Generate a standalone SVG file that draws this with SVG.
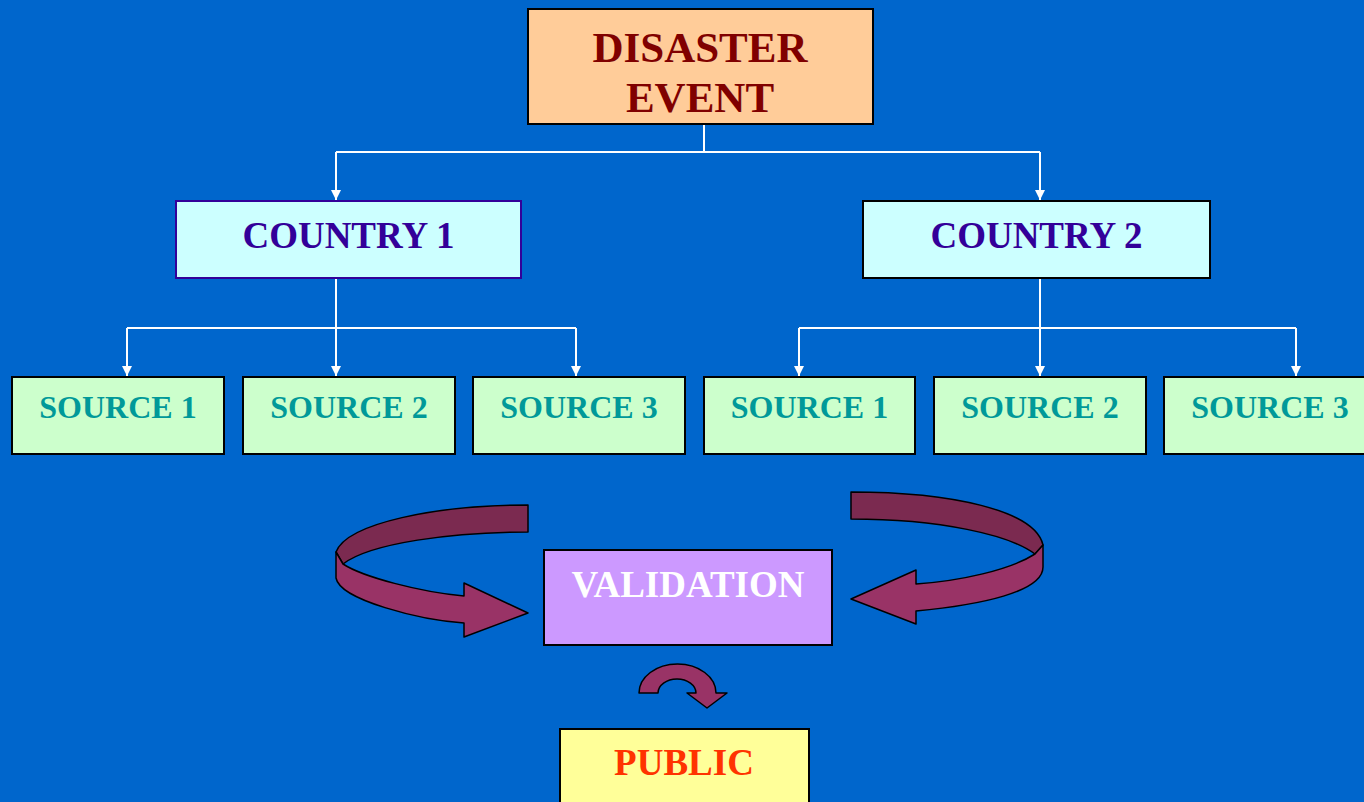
<svg xmlns="http://www.w3.org/2000/svg" width="1364" height="802" viewBox="0 0 1364 802">
<defs>
<marker id="ah" viewBox="0 0 10 10" refX="10" refY="5" markerWidth="10" markerHeight="10" markerUnits="userSpaceOnUse" orient="auto">
<path d="M0,0 L10,5 L0,10 Z" fill="#FFFFFF"/>
</marker>
<style>
.t{font-family:"Liberation Serif","Times New Roman",serif;font-weight:bold;text-anchor:middle}
.box{stroke:#000000;stroke-width:2}
.src rect{fill:#CCFFCC}
.src text{fill:#009999;font-size:32px}
.ctry rect{fill:#CCFFFF}
.ctry text{fill:#330099;font-size:37px}
.conn{fill:none;stroke:#FFFFFF;stroke-width:2}
.back{fill:#7B2A50;stroke:#000000;stroke-width:1.5;stroke-linejoin:round}
.front{fill:#993366;stroke:#000000;stroke-width:1.5;stroke-linejoin:round}
</style>
</defs>
<rect x="0" y="0" width="1364" height="802" fill="#0066CC"/>

<g id="connectors">
<path class="conn" d="M704,124 V152"/>
<path class="conn" d="M336,152 H1040"/>
<path class="conn" d="M336,152 V200" marker-end="url(#ah)"/>
<path class="conn" d="M1040,152 V200" marker-end="url(#ah)"/>
<path class="conn" d="M127,328 H576"/>
<path class="conn" d="M336,278 V376" marker-end="url(#ah)"/>
<path class="conn" d="M127,328 V376" marker-end="url(#ah)"/>
<path class="conn" d="M576,328 V376" marker-end="url(#ah)"/>
<path class="conn" d="M799,328 H1296"/>
<path class="conn" d="M1040,278 V376" marker-end="url(#ah)"/>
<path class="conn" d="M799,328 V376" marker-end="url(#ah)"/>
<path class="conn" d="M1296,328 V376" marker-end="url(#ah)"/>
</g>

<g id="disaster-event">
<rect class="box" x="528" y="9" width="345" height="115" fill="#FFCC99"/>
<text class="t" x="700" y="62" font-size="43" fill="#800000">DISASTER</text>
<text class="t" x="700" y="112" font-size="43" fill="#800000">EVENT</text>
</g>

<g id="country-1" class="ctry">
<rect x="176" y="201" width="345" height="77" stroke="#330099" stroke-width="2"/>
<text class="t" x="348.5" y="248">COUNTRY 1</text>
</g>
<g id="country-2" class="ctry">
<rect class="box" x="863" y="201" width="347" height="77"/>
<text class="t" x="1036.5" y="248">COUNTRY 2</text>
</g>

<g id="c1-source-1" class="src"><rect class="box" x="12" y="377" width="212" height="77"/><text class="t" x="118" y="418">SOURCE 1</text></g>
<g id="c1-source-2" class="src"><rect class="box" x="243" y="377" width="212" height="77"/><text class="t" x="349" y="418">SOURCE 2</text></g>
<g id="c1-source-3" class="src"><rect class="box" x="473" y="377" width="212" height="77"/><text class="t" x="579" y="418">SOURCE 3</text></g>
<g id="c2-source-1" class="src"><rect class="box" x="704" y="377" width="211" height="77"/><text class="t" x="809.5" y="418">SOURCE 1</text></g>
<g id="c2-source-2" class="src"><rect class="box" x="934" y="377" width="212" height="77"/><text class="t" x="1040" y="418">SOURCE 2</text></g>
<g id="c2-source-3" class="src"><rect class="box" x="1164" y="377" width="212" height="77"/><text class="t" x="1270" y="418">SOURCE 3</text></g>

<g id="left-curved-arrow">
<path class="back" d="M528,505 C437,505 347,523 336,552 L343,564 C370,543 453,532 528,532 Z"/>
<path class="front" d="M336,552 L343,564 C363,577 420,592 464,596 L464,583 L528,613 L464,637 L464,623 C420,620 340,600 336,578 Z"/>
</g>
<g id="right-curved-arrow">
<path class="back" d="M851,492 C950,492 1035,510 1043,545 L1035,554 C1010,535 940,519 851,519 Z"/>
<path class="front" d="M1043,545 L1035,554 C1010,570 960,581 916,584 L916,570 L851,599 L916,624 L916,611 C980,605 1043,592 1043,567 Z"/>
</g>

<g id="validation">
<rect class="box" x="544" y="550" width="288" height="95" fill="#CC99FF"/>
<text class="t" x="688" y="597" font-size="37" fill="#FFFFFF">VALIDATION</text>
</g>

<g id="small-curved-arrow">
<path class="front" d="M639,693 A38.5,29 0 0 1 716,693 L727,693 L707,708 L687,693 L696,693 A19,14 0 0 0 658,693 Z"/>
</g>

<g id="public">
<rect class="box" x="560" y="729" width="249" height="85" fill="#FFFF99"/>
<text class="t" x="684" y="775" font-size="37" fill="#FF3300">PUBLIC</text>
</g>
</svg>
